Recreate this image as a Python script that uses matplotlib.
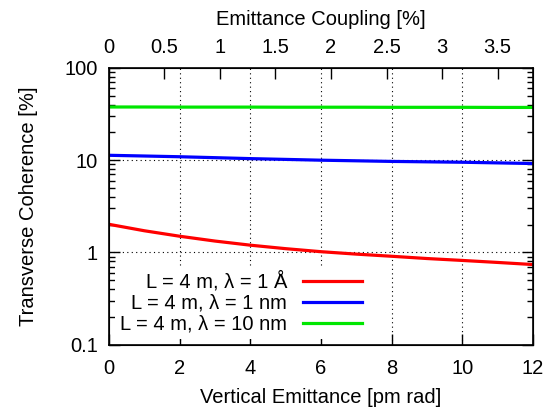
import numpy as np
import matplotlib.pyplot as plt
from matplotlib.ticker import LogLocator, NullFormatter, FixedLocator

plt.rcParams['font.family'] = ['Liberation Sans', 'DejaVu Sans']
plt.rcParams['font.size'] = 14.5

# Vertical emittance [pm rad]
emittance = [0, 1, 2, 3, 4, 5, 6, 7, 8, 9, 10, 11, 12]
# Transverse coherence [%]
coh_1A = [2.02, 1.72, 1.50, 1.33, 1.20, 1.10, 1.02, 0.96, 0.91, 0.86, 0.82, 0.78, 0.74]
coh_1nm = [11.3, 11.1, 10.9, 10.65, 10.4, 10.2, 10.0, 9.85, 9.7, 9.6, 9.5, 9.35, 9.2]
coh_10nm = [37.7, 37.7, 37.6, 37.6, 37.6, 37.5, 37.5, 37.5, 37.4, 37.4, 37.4, 37.3, 37.3]
labels = ['L = 4 m, λ = 1 Å', 'L = 4 m, λ = 1 nm', 'L = 4 m, λ = 10 nm']
colors = ['#ff0000', '#0000ff', '#00e600']

coupling_max = 3.82  # top axis value at emittance = 12
coupling_ticks = [0, 0.5, 1, 1.5, 2, 2.5, 3, 3.5]

fig = plt.figure(figsize=(5.53, 4.09), dpi=100)
ax = fig.add_axes([0.197, 0.157, 0.767, 0.677])

for y, lab, c in zip([coh_1A, coh_1nm, coh_10nm], labels, colors):
    ax.plot(emittance, y, color=c, lw=2.3, label=lab)

ax.set_yscale('log')
ax.set_xlim(0, 12)
ax.set_ylim(0.1, 100)
ax.set_xticks([0, 2, 4, 6, 8, 10, 12])
ax.set_yticks([0.1, 1, 10, 100])
ax.set_yticklabels(['0.1', '1', '10', '100'])
ax.yaxis.set_minor_locator(LogLocator(base=10, subs=np.arange(2, 10)))
ax.yaxis.set_minor_formatter(NullFormatter())
ax.tick_params(which='both', direction='in', right=True, top=False, width=1)
ax.tick_params(which='major', length=8)
ax.tick_params(axis='x', which='major', pad=10)
ax.tick_params(axis='y', which='major', pad=8)
ax.tick_params(which='minor', length=4)
for s in ax.spines.values():
    s.set_linewidth(1.2)

# dotted grid at the bottom-axis and y-axis major ticks
for gx in [2, 4, 6, 8, 10]:
    ax.axvline(gx, color='black', lw=0.8, ls=(0, (1, 3)), zorder=0)
for gy in [1, 10]:
    ax.axhline(gy, color='black', lw=0.8, ls=(0, (1, 3)), zorder=0)

ax.set_xlabel('Vertical Emittance [pm rad]', labelpad=7.5)
ax.set_ylabel('Transverse Coherence [%]', labelpad=19)

ax2 = ax.twiny()
ax2.set_xlim(0, coupling_max)
ax2.xaxis.set_major_locator(FixedLocator(coupling_ticks))
ax2.set_xticklabels(['0', '0.5', '1', '1.5', '2', '2.5', '3', '3.5'])
ax2.tick_params(direction='in', length=8, width=1, pad=8)
ax2.set_xlabel('Emittance Coupling [%]', labelpad=9.5)

leg = ax.legend(loc='lower left', bbox_to_anchor=(0.0, 0.0), markerfirst=False,
                frameon=True, handlelength=2.9, handletextpad=0.8,
                labelspacing=0.1, borderaxespad=0.3, borderpad=0.25,
                fancybox=False)
leg.get_frame().set_edgecolor('none')
leg.get_frame().set_facecolor('white')
leg.get_frame().set_alpha(1.0)

fig.savefig('out.png', dpi=100)
